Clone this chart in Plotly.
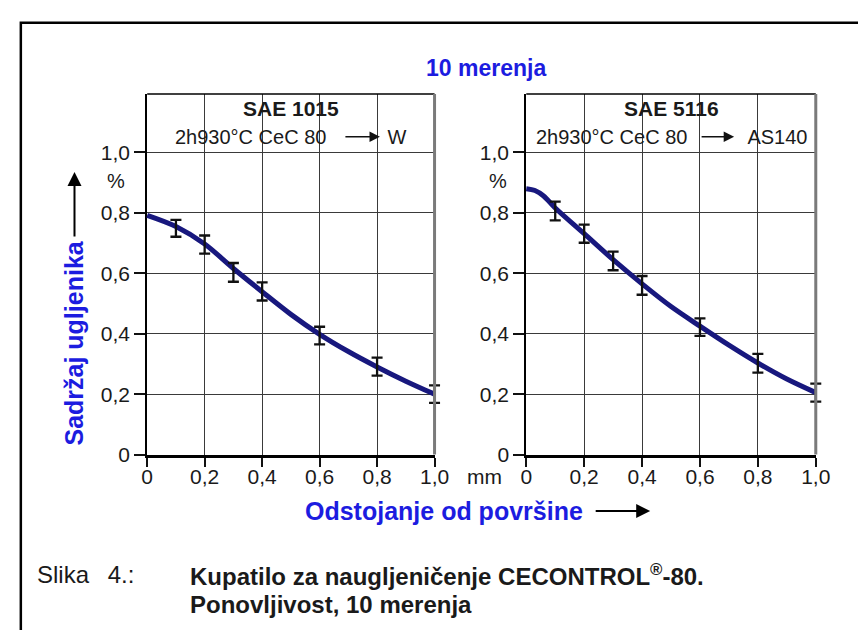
import plotly.graph_objects as go

# ---------------- data ----------------
pts_x = [0.1, 0.2, 0.3, 0.4, 0.6, 0.8, 1.0]
sae1015_mean = [0.749, 0.695, 0.603, 0.540, 0.394, 0.291, 0.200]
sae1015_err = [0.028, 0.030, 0.031, 0.030, 0.029, 0.030, 0.029]
sae5116_mean = [0.806, 0.731, 0.641, 0.560, 0.422, 0.302, 0.205]
sae5116_err = [0.031, 0.030, 0.031, 0.031, 0.029, 0.031, 0.030]

curve_x1 = [0.0, 0.1, 0.2, 0.3, 0.4, 0.5, 0.6, 0.7, 0.8, 0.9, 1.0]
sae1015_curve = [0.792, 0.755, 0.697, 0.616, 0.539, 0.464, 0.398, 0.341, 0.290, 0.243, 0.200]
curve_x2 = [0.0, 0.03, 0.06, 0.1, 0.2, 0.3, 0.4, 0.5, 0.6, 0.7, 0.8, 0.9, 1.0]
sae5116_curve = [0.880, 0.874, 0.856, 0.816, 0.731, 0.645, 0.565, 0.490, 0.425, 0.362, 0.303, 0.250, 0.205]

x_ticks = [0, 0.2, 0.4, 0.6, 0.8, 1.0]
x_labels = ["0", "0,2", "0,4", "0,6", "0,8", "1,0"]
y_ticks = [0, 0.2, 0.4, 0.6, 0.8, 1.0]
y_labels = ["0", "0,2", "0,4", "0,6", "0,8", "1,0"]

panel_titles = ["SAE 1015", "SAE 5116"]
panel_subtitles = ["2h930°C CeC 80", "2h930°C CeC 80"]
panel_targets = ["W", "AS140"]

# ---------------- style ----------------
W, H = 866, 630
FONT = "Liberation Sans, Arial, Helvetica, sans-serif"
BLUE = "#1c1ce0"
NAVY = "#18187e"
TXT = "#1a1a1a"

def px(x):
    return x / W

def py(y):
    return 1 - y / H

L1, R1 = 136.5, 431.0
L2, R2 = 525.0, 821.7
B, T = 454.5, 87.5
XS1 = R1 - L1
XS2 = R2 - L2
YS = 307.5
y_top = (B - T) / YS
PAD = 14

fig = go.Figure()

panels = [
    (curve_x1, sae1015_curve, sae1015_mean, sae1015_err, "x", "y", "x3", "y3"),
    (curve_x2, sae5116_curve, sae5116_mean, sae5116_err, "x2", "y2", "x4", "y4"),
]
for cx, curve, mean, err, bxa, bya, xa, ya in panels:
    fig.add_trace(go.Scatter(x=pts_x, y=mean, mode="markers", xaxis=bxa, yaxis=bya,
                             marker=dict(size=1, color="rgba(0,0,0,0)"),
                             hoverinfo="skip", showlegend=False))
    fig.add_trace(go.Scatter(x=cx, y=curve, mode="lines", xaxis=xa, yaxis=ya,
                             line=dict(color=NAVY, width=5, shape="spline", smoothing=0.9),
                             hoverinfo="skip", showlegend=False))
    fig.add_trace(go.Scatter(x=pts_x, y=mean, mode="markers", xaxis=xa, yaxis=ya,
                             marker=dict(size=1, color="rgba(0,0,0,0)"),
                             error_y=dict(type="data", array=err, color="#111111",
                                          thickness=2.3, width=5.5),
                             showlegend=False))

axis_common = dict(
    tickfont=dict(family=FONT, size=21, color=TXT),
    ticks="outside", ticklen=9, tickwidth=2, tickcolor="#111111",
    showgrid=True, gridcolor="#3a3a3a", gridwidth=1,
    zeroline=False,
)

for i, (L, R, XS) in enumerate([(L1, R1, XS1), (L2, R2, XS2)]):
    xa = "xaxis" if i == 0 else "xaxis2"
    ya = "yaxis" if i == 0 else "yaxis2"
    ax_id = "x" if i == 0 else "x2"
    ay_id = "y" if i == 0 else "y2"
    fig.update_layout(**{
        xa: dict(axis_common, domain=[px(L), px(R)], range=[0, 1], anchor=ay_id,
                 tickvals=x_ticks, ticktext=x_labels, ticklabelstandoff=-8,
                 showline=True, linecolor="#000000", linewidth=3),
        ya: dict(axis_common, domain=[py(B), py(T)], range=[0, y_top], anchor=ax_id,
                 tickvals=y_ticks, ticktext=y_labels, ticklen=11,
                 showline=True, linecolor="#000000", linewidth=2),
    })
    oxa = "xaxis3" if i == 0 else "xaxis4"
    oya = "yaxis3" if i == 0 else "yaxis4"
    ox_id = "x3" if i == 0 else "x4"
    oy_id = "y3" if i == 0 else "y4"
    fig.update_layout(**{
        oxa: dict(domain=[px(L - PAD), px(R + PAD)], range=[-PAD / XS, 1 + PAD / XS],
                  anchor=oy_id, visible=False, showgrid=False, zeroline=False),
        oya: dict(domain=[py(B + PAD), py(T)], range=[-PAD / YS, y_top],
                  anchor=ox_id, visible=False, showgrid=False, zeroline=False),
    })

shapes = []
for xd, yd in [("x domain", "y domain"), ("x2 domain", "y2 domain")]:
    shapes.append(dict(type="line", xref=xd, yref=yd, x0=0, x1=1, y0=1, y1=1,
                       line=dict(color="#000000", width=1.5)))
    shapes.append(dict(type="line", xref=xd, yref=yd, x0=1, x1=1, y0=0, y1=1,
                       line=dict(color="#7a7a7a", width=3)))
shapes.append(dict(type="rect", xref="paper", yref="paper",
                   x0=px(7), x1=1.02, y0=-0.02, y1=py(15),
                   line=dict(color="#000000", width=2.5)))

annotations = []
annotations.append(dict(text="<b>10 merenja</b>", x=px(484), y=py(61), xref="paper", yref="paper",
                        showarrow=False, font=dict(family=FONT, size=23, color=BLUE),
                        xanchor="center", yanchor="middle"))
centers = [(L1 + R1) / 2, (L2 + R2) / 2]
for c, t, s, tg in zip(centers, panel_titles, panel_subtitles, panel_targets):
    annotations.append(dict(text="<b>" + t + "</b>", x=px(c), y=py(102), xref="paper", yref="paper",
                            showarrow=False, font=dict(family=FONT, size=21, color=TXT),
                            xanchor="center", yanchor="middle"))
    annotations.append(dict(text=s + " \u2003\u2003\u2002 " + tg, x=px(c), y=py(131),
                            xref="paper", yref="paper",
                            showarrow=False, font=dict(family=FONT, size=20, color=TXT),
                            xanchor="center", yanchor="middle"))
for hx, hy, ln in [(375, 131, 36), (738, 131, 34)]:
    annotations.append(dict(text="", x=px(hx), y=py(hy), xref="paper", yref="paper",
                            ax=-ln, ay=0, axref="pixel", ayref="pixel",
                            showarrow=True, arrowhead=2, arrowsize=1.3, arrowwidth=1.6,
                            arrowcolor="#111111"))
for xr in [116, 507]:
    annotations.append(dict(text="%", x=px(xr), y=py(176), xref="paper", yref="paper",
                            showarrow=False, font=dict(family=FONT, size=20, color=TXT),
                            xanchor="right", yanchor="middle"))
annotations.append(dict(text="mm", x=px(462), y=py(477), xref="paper", yref="paper",
                        showarrow=False, font=dict(family=FONT, size=21, color=TXT),
                        xanchor="left", yanchor="middle"))
annotations.append(dict(text="<b>Sadržaj ugljenika</b>", x=px(62), y=py(341), xref="paper", yref="paper",
                        showarrow=False, textangle=-90, font=dict(family=FONT, size=25, color=BLUE),
                        xanchor="center", yanchor="middle"))
annotations.append(dict(text="", x=px(62), y=py(167), xref="paper", yref="paper",
                        ax=0, ay=66, axref="pixel", ayref="pixel",
                        showarrow=True, arrowhead=2, arrowsize=1.4, arrowwidth=2,
                        arrowcolor="#000000"))
annotations.append(dict(text="<b>Odstojanje od površine</b>", x=px(296), y=py(512), xref="paper", yref="paper",
                        showarrow=False, font=dict(family=FONT, size=25, color=BLUE),
                        xanchor="left", yanchor="middle"))
annotations.append(dict(text="", x=px(652), y=py(512), xref="paper", yref="paper",
                        ax=-56, ay=0, axref="pixel", ayref="pixel",
                        showarrow=True, arrowhead=2, arrowsize=1.4, arrowwidth=2,
                        arrowcolor="#000000"))
annotations.append(dict(text="Slika\u2002 4.:", x=px(22), y=py(577), xref="paper", yref="paper",
                        showarrow=False, font=dict(family=FONT, size=24, color=TXT),
                        xanchor="left", yanchor="middle"))
annotations.append(dict(text="<b>Kupatilo za naugljeničenje CECONTROL<sup>®</sup>-80.</b>",
                        x=px(178), y=py(577), xref="paper", yref="paper",
                        showarrow=False, font=dict(family=FONT, size=24, color=TXT),
                        xanchor="left", yanchor="middle"))
annotations.append(dict(text="<b>Ponovljivost, 10 merenja</b>", x=px(178), y=py(607),
                        xref="paper", yref="paper",
                        showarrow=False, font=dict(family=FONT, size=24, color=TXT),
                        xanchor="left", yanchor="middle"))

fig.update_layout(width=W, height=H, margin=dict(l=0, r=0, t=0, b=0),
                  paper_bgcolor="white", plot_bgcolor="rgba(0,0,0,0)",
                  shapes=shapes, annotations=annotations, showlegend=False)

fig.write_html("out.html")
